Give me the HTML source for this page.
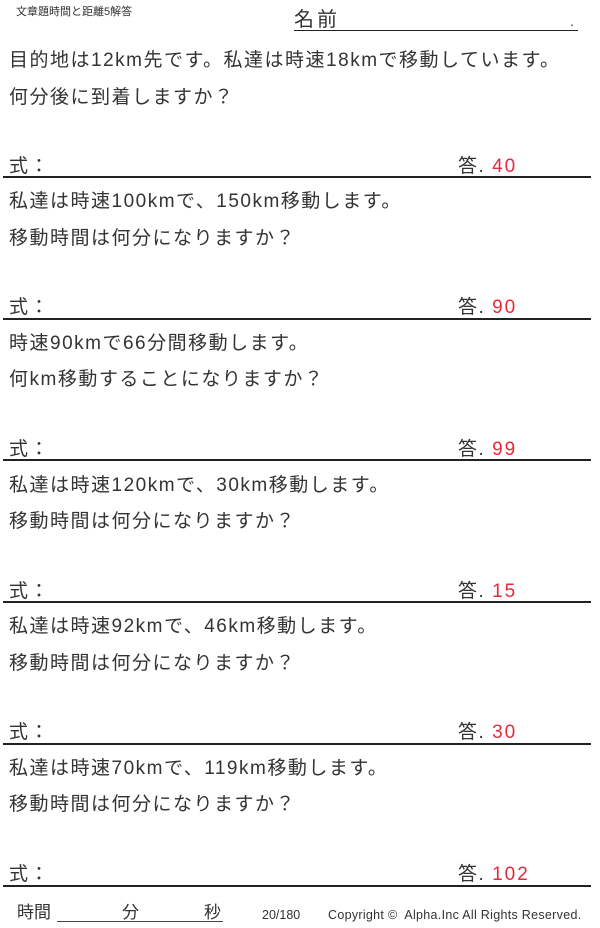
<!DOCTYPE html>
<html><head><meta charset="utf-8"><style>
body{margin:0;width:600px;height:928px;background:#fff;position:relative;overflow:hidden;font-family:"Liberation Sans","Noto Sans CJK JP",sans-serif;color:#333}
.a{position:absolute;white-space:nowrap;line-height:1}
.q{font-size:19px;left:9px;letter-spacing:1.5px}
.hr{position:absolute;left:3px;width:588px;height:2px;background:#222}
.r{color:#e8283c;font-size:19px;letter-spacing:2px}
</style></head><body>
<div class="a" style="left:16px;top:7px;font-size:11px">文章題時間と距離5解答</div>
<div class="a" style="left:294px;top:10px;font-size:20px;letter-spacing:3px">名前</div>
<div class="a" style="left:570px;top:14px;font-size:14px">.</div>
<div style="position:absolute;left:294px;top:30px;width:284px;height:1px;background:#222"></div>

<div class="a q" style="top:51px">目的地は12km先です。私達は時速18kmで移動しています。</div>
<div class="a q" style="top:88px">何分後に到着しますか？</div>
<div class="a q" style="top:157px">式：</div><div class="a q" style="left:458px;top:157px">答. <span class="r">40</span></div>
<div class="hr" style="top:176px"></div>

<div class="a q" style="top:192px">私達は時速100kmで、150km移動します。</div>
<div class="a q" style="top:229px">移動時間は何分になりますか？</div>
<div class="a q" style="top:298px">式：</div><div class="a q" style="left:458px;top:298px">答. <span class="r">90</span></div>
<div class="hr" style="top:318px"></div>

<div class="a q" style="top:334px">時速90kmで66分間移動します。</div>
<div class="a q" style="top:370px">何km移動することになりますか？</div>
<div class="a q" style="top:440px">式：</div><div class="a q" style="left:458px;top:440px">答. <span class="r">99</span></div>
<div class="hr" style="top:459px"></div>

<div class="a q" style="top:476px">私達は時速120kmで、30km移動します。</div>
<div class="a q" style="top:512px">移動時間は何分になりますか？</div>
<div class="a q" style="top:582px">式：</div><div class="a q" style="left:458px;top:582px">答. <span class="r">15</span></div>
<div class="hr" style="top:601px"></div>

<div class="a q" style="top:617px">私達は時速92kmで、46km移動します。</div>
<div class="a q" style="top:654px">移動時間は何分になりますか？</div>
<div class="a q" style="top:723px">式：</div><div class="a q" style="left:458px;top:723px">答. <span class="r">30</span></div>
<div class="hr" style="top:743px"></div>

<div class="a q" style="top:759px">私達は時速70kmで、119km移動します。</div>
<div class="a q" style="top:795px">移動時間は何分になりますか？</div>
<div class="a q" style="top:865px">式：</div><div class="a q" style="left:458px;top:865px">答. <span class="r">102</span></div>
<div class="hr" style="top:885px"></div>

<div class="a" style="left:17px;top:904px;font-size:17px">時間</div>
<div class="a" style="left:122px;top:904px;font-size:17px">分</div>
<div class="a" style="left:204px;top:904px;font-size:17px">秒</div>
<div style="position:absolute;left:57px;top:921px;width:166px;height:1px;background:#444"></div>
<div class="a" style="left:262px;top:909px;font-size:12.5px">20/180</div>
<div class="a" style="left:328px;top:909px;font-size:12.5px;letter-spacing:0.3px">Copyright ©&nbsp; Alpha.Inc All Rights Reserved.</div>
</body></html>
